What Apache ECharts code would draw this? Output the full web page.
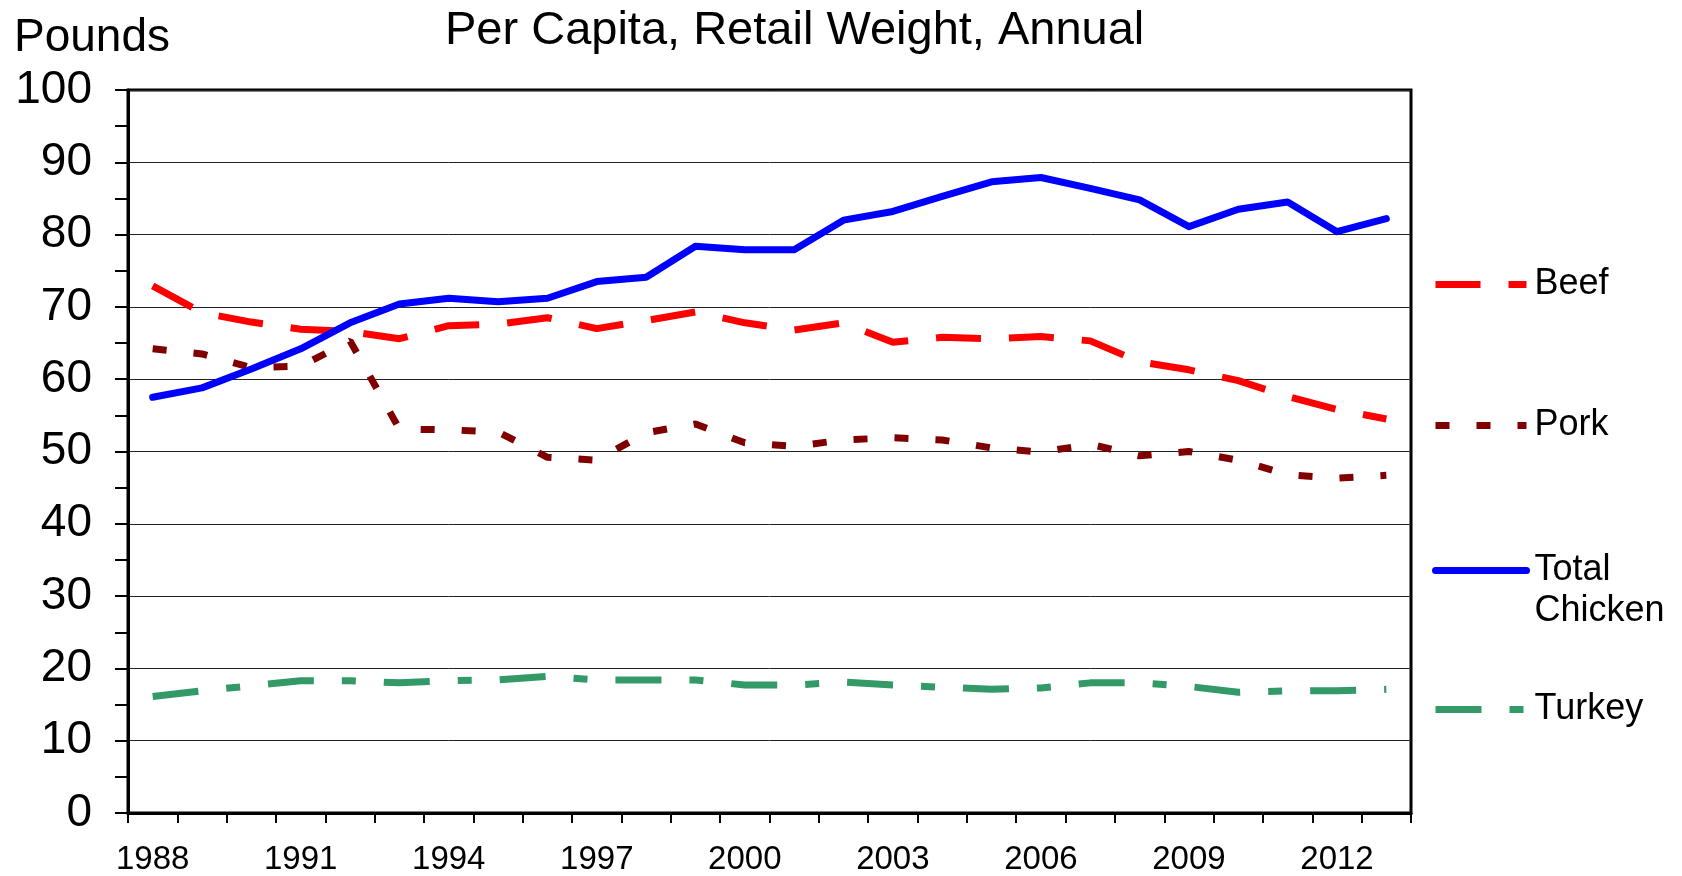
<!DOCTYPE html>
<html>
<head>
<meta charset="utf-8">
<script src="https://cdn.jsdelivr.net/npm/echarts@6/dist/echarts.min.js"></script>
<style>
  html, body { margin: 0; padding: 0; background: #fff; }
  #chart { width: 1682px; height: 876px; }
</style>
</head>
<body>
<div id="chart"></div>
<script>
  // Per capita consumption, pounds, retail weight
  const years = ['1988', '1989', '1990', '1991', '1992', '1993', '1994', '1995', '1996', '1997', '1998', '1999', '2000',
    '2001', '2002', '2003', '2004', '2005', '2006', '2007', '2008', '2009', '2010', '2011', '2012', '2013'];

  const beef = [72.9, 69.2, 67.9, 66.9, 66.6, 65.6, 67.4, 67.6, 68.5, 67.0, 68.1, 69.3, 67.8,
    66.8, 67.8, 65.1, 65.8, 65.6, 65.9, 65.3, 62.4, 61.3, 59.8, 57.6, 55.8, 54.5];

  const pork = [64.2, 63.5, 61.6, 61.8, 65.3, 53.1, 53.0, 52.7, 49.2, 48.8, 52.6, 53.8, 51.2,
    50.7, 51.6, 51.9, 51.6, 50.5, 49.9, 51.0, 49.4, 50.0, 48.8, 46.8, 46.3, 46.7];

  const chicken = [57.5, 58.8, 61.4, 64.2, 67.8, 70.4, 71.2, 70.7, 71.2, 73.5, 74.1, 78.4, 77.9,
    77.9, 82.0, 83.2, 85.3, 87.3, 87.9, 86.4, 84.8, 81.1, 83.5, 84.5, 80.4, 82.2];

  const turkey = [16.1, 16.9, 17.6, 18.3, 18.3, 18.0, 18.3, 18.4, 18.9, 18.4, 18.4, 18.4, 17.7,
    17.7, 18.1, 17.7, 17.4, 17.1, 17.3, 18.0, 18.0, 17.5, 16.7, 16.9, 16.9, 17.1];

  const FONT = '"Liberation Sans", Arial, sans-serif';

  const chart = echarts.init(document.getElementById('chart'));

  // one legend block per series, stacked down the right side like the original
  const legendRow = (name, top, extra) => Object.assign({
    data: [name],
    orient: 'vertical',
    left: 1432,
    top: top,
    padding: 0,
    itemWidth: 91,
    itemHeight: 14,
    selectedMode: false,
    lineStyle: { width: 7 },
    itemStyle: { opacity: 0 }, // hide the circle symbol, keep only the line sample
    textStyle: { fontFamily: FONT, fontSize: 36, color: '#000', lineHeight: 41, padding: [0, 0, 0, 3] },
  }, extra || {});

  const option = {
    animation: false,
    backgroundColor: '#fff',
    title: [
      {
        text: 'Per Capita, Retail Weight, Annual',
        left: 445,
        top: 8,
        padding: 0,
        textStyle: { fontFamily: FONT, fontSize: 47, fontWeight: 'normal', color: '#000' },
      },
      {
        text: 'Pounds',
        left: 14,
        top: 15,
        padding: 0,
        textStyle: { fontFamily: FONT, fontSize: 46, fontWeight: 'normal', color: '#000' },
      },
    ],
    legend: [
      legendRow('Beef', 264),
      legendRow('Pork', 405),
      // empty first line so the sample sits beside "Total" rather than between the two lines
      legendRow('Total Chicken', 509, { formatter: () => '\nTotal\nChicken' }),
      legendRow('Turkey', 689),
    ],
    grid: {
      left: 128,
      right: 271,
      top: 90,
      bottom: 61,
      show: true,
      borderColor: '#000',
      borderWidth: 3,
    },
    xAxis: {
      type: 'category',
      data: years,
      boundaryGap: true,
      axisLine: { lineStyle: { color: '#000', width: 3 } },
      axisTick: { show: true, interval: 0, length: 10, lineStyle: { color: '#000', width: 2 } },
      axisLabel: { interval: 2, margin: 30, fontFamily: FONT, fontSize: 33, color: '#000' },
      splitLine: { show: false },
    },
    yAxis: {
      type: 'value',
      min: 0,
      max: 100,
      interval: 10,
      axisLine: { show: true, lineStyle: { color: '#000', width: 3 } },
      axisTick: { show: true, length: 13, lineStyle: { color: '#000', width: 2 } },
      minorTick: { show: true, splitNumber: 2, length: 13, lineStyle: { color: '#000', width: 2 } },
      axisLabel: { margin: 36, fontFamily: FONT, fontSize: 46, color: '#000' },
      splitLine: { show: true, lineStyle: { color: '#222', width: 1 } },
    },
    series: [
      {
        name: 'Beef',
        type: 'line',
        data: beef,
        symbol: 'none',
        color: '#FF0000',
        lineStyle: { color: '#FF0000', width: 7, type: [45, 28], cap: 'butt' },
      },
      {
        name: 'Pork',
        type: 'line',
        data: pork,
        symbol: 'none',
        color: '#800000',
        lineStyle: { color: '#800000', width: 7, type: [14, 27], cap: 'butt' },
      },
      {
        name: 'Total Chicken',
        type: 'line',
        data: chicken,
        symbol: 'none',
        color: '#0000FF',
        lineStyle: { color: '#0000FF', width: 7, cap: 'round', join: 'round' },
      },
      {
        name: 'Turkey',
        type: 'line',
        data: turkey,
        symbol: 'none',
        color: '#339966',
        lineStyle: { color: '#339966', width: 7, type: [46, 28, 14, 28], cap: 'butt' },
      },
    ],
  };

  chart.setOption(option);
</script>
</body>
</html>
